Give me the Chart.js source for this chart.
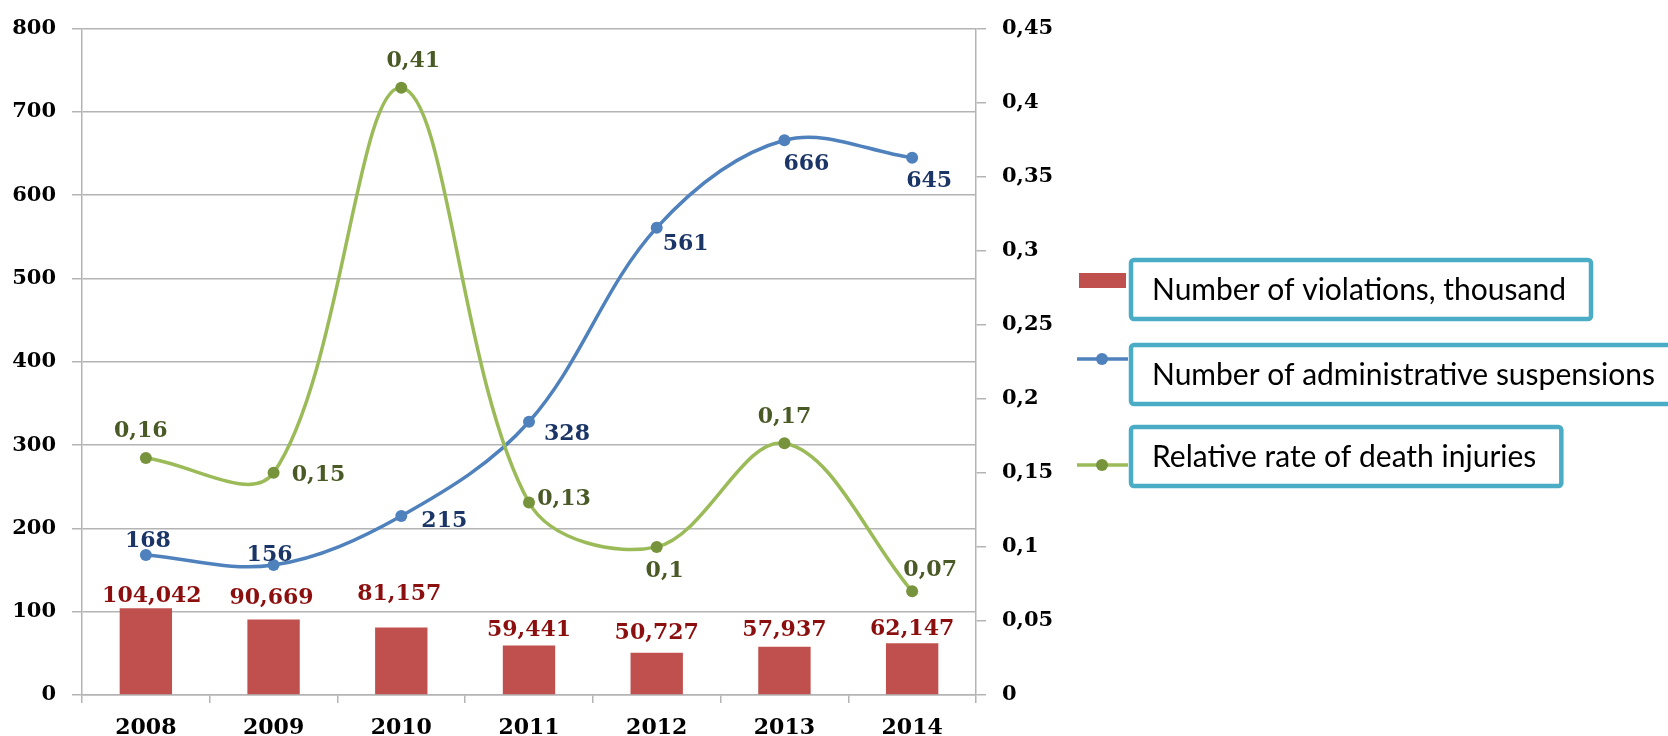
<!DOCTYPE html>
<html>
<head>
<meta charset="utf-8">
<script src="https://cdn.jsdelivr.net/npm/chart.js@4.4.1/dist/chart.umd.min.js"></script>
<style>
  html, body { margin: 0; padding: 0; background: #fff; }
  #wrap { width: 1668px; height: 736px; }
</style>
</head>
<body>
<div id="wrap"><canvas id="chart" width="1668" height="736"></canvas></div>
<script>
// Years on the category axis
const years = ["2008", "2009", "2010", "2011", "2012", "2013", "2014"];

// Number of violations, thousand (bars, left axis)
const violations = [104.042, 90.669, 81.157, 59.441, 50.727, 57.937, 62.147];

// Number of administrative suspensions (blue line, left axis)
const suspensions = [168, 156, 215, 328, 561, 666, 645];

// Relative rate of death injuries (green line, right axis)
const deathRate = [0.16, 0.15, 0.41, 0.13, 0.1, 0.17, 0.07];

const seriesNames = [
  "Number of violations, thousand",
  "Number of administrative suspensions",
  "Relative rate of death injuries"
];

// where each value label sits relative to its point, in px (dx, dy)
const barLabelNudge = [[6, -14], [-2, -23], [-2, -35], [0, -17], [0, -22], [0, -19], [0, -16]];
const blueLabelNudge = [[2, -16], [-4, -12], [43, 3], [38, 10], [29, 14], [22, 22], [17, 21]];
const greenLabelNudge = [[-5, -29], [45, 0], [12, -29], [35, -5], [8, 22], [0, -28], [18, -23]];

const gridGray = "#B4B4B4";
const serif = "'DejaVu Serif', 'Liberation Serif', serif";

const commaNum = (v, digits) => {
  const s = digits === undefined ? String(Math.round(v * 100) / 100) : v.toFixed(digits);
  return s.replace(".", ",");
};

// Value labels next to bars and points
const valueLabels = {
  id: "valueLabels",
  afterDatasetsDraw(chart) {
    const ctx = chart.ctx;
    ctx.save();
    ctx.font = "bold 22px " + serif;
    ctx.textAlign = "center";
    ctx.textBaseline = "alphabetic";
    chart.data.datasets.forEach((ds, i) => {
      const meta = chart.getDatasetMeta(i);
      meta.data.forEach((el, j) => {
        const [dx, dy] = ds.labelNudge[j];
        ctx.fillStyle = ds.labelColor;
        ctx.fillText(ds.labelText(ds.data[j]), el.x + dx, el.y + dy + 8);
      });
    });
    ctx.restore();
  }
};

// Legend on the right with framed captions
const sideLegend = {
  id: "sideLegend",
  afterDraw(chart) {
    const ctx = chart.ctx;
    const boxX = 1131;
    const boxTops = [260, 345, 427];
    const boxH = 59;
    const markerY = [280, 359, 465];

    ctx.save();
    // fit the caption font so the last caption is ~380px wide
    ctx.font = "100px Lato";
    const w100 = ctx.measureText(seriesNames[2]).width;
    const size = Math.round(100 * 380 / w100);
    ctx.font = size + "px Lato";

    chart.data.datasets.forEach((ds, i) => {
      // marker
      if (ds.type === "bar") {
        ctx.fillStyle = ds.backgroundColor;
        ctx.fillRect(1079, markerY[i] - 7, 47, 15);
      } else {
        ctx.strokeStyle = ds.borderColor;
        ctx.lineWidth = 3.5;
        ctx.beginPath();
        ctx.moveTo(1077, markerY[i]);
        ctx.lineTo(1128, markerY[i]);
        ctx.stroke();
        ctx.fillStyle = ds.pointBackgroundColor;
        ctx.beginPath();
        ctx.arc(1102, markerY[i], 6, 0, Math.PI * 2);
        ctx.fill();
      }
      // framed caption
      const tw = ctx.measureText(ds.label).width;
      const bw = tw + 21 + 25;
      ctx.fillStyle = "#fff";
      ctx.strokeStyle = "#4BACC6";
      ctx.lineWidth = 4.5;
      ctx.beginPath();
      if (ctx.roundRect) ctx.roundRect(boxX, boxTops[i], bw, boxH, 3);
      else ctx.rect(boxX, boxTops[i], bw, boxH);
      ctx.fill();
      ctx.stroke();
      ctx.fillStyle = "#000";
      ctx.textAlign = "left";
      ctx.textBaseline = "middle";
      ctx.fillText(ds.label, boxX + 21, boxTops[i] + boxH / 2 + 1);
    });
    ctx.restore();
  }
};

Chart.defaults.font.family = serif;
Chart.defaults.color = "#000";

const chart = new Chart(document.getElementById("chart"), {
  type: "bar",
  data: {
    labels: years,
    datasets: [
      {
        type: "bar",
        label: seriesNames[0],
        data: violations,
        yAxisID: "y",
        backgroundColor: "#C0504D",
        borderWidth: 0,
        categoryPercentage: 1,
        barPercentage: 0.41,
        order: 3,
        labelColor: "#8C0F0F",
        labelNudge: barLabelNudge,
        labelText: v => commaNum(v, 3)
      },
      {
        type: "line",
        label: seriesNames[1],
        data: suspensions,
        yAxisID: "y",
        borderColor: "#4F81BD",
        borderWidth: 3.5,
        pointRadius: 6,
        pointBackgroundColor: "#4F81BD",
        pointBorderWidth: 0,
        tension: 0.35,
        fill: false,
        order: 2,
        labelColor: "#1B3567",
        labelNudge: blueLabelNudge,
        labelText: v => String(v)
      },
      {
        type: "line",
        label: seriesNames[2],
        data: deathRate,
        yAxisID: "y1",
        borderColor: "#9BBB59",
        borderWidth: 3.5,
        pointRadius: 6,
        pointBackgroundColor: "#77933C",
        pointBorderWidth: 0,
        tension: 0.35,
        fill: false,
        order: 1,
        labelColor: "#4A5A26",
        labelNudge: greenLabelNudge,
        labelText: v => commaNum(v)
      }
    ]
  },
  options: {
    responsive: false,
    animation: false,
    layout: { padding: { top: 23, right: 572, bottom: 0, left: 0 } },
    plugins: {
      legend: { display: false },
      tooltip: { enabled: false }
    },
    scales: {
      x: {
        offset: true,
        grid: { offset: true, drawOnChartArea: false, tickLength: 8, color: gridGray, lineWidth: 1.5 },
        border: { color: gridGray, width: 1.5 },
        ticks: { font: { size: 22, weight: "bold" }, color: "#000", padding: 12, maxRotation: 0 },
        afterFit: s => { s.height = 41; }
      },
      y: {
        position: "left",
        min: 0,
        max: 800,
        ticks: { stepSize: 100, font: { size: 21, weight: "bold" }, color: "#000", padding: 16 },
        grid: { color: gridGray, lineWidth: 1.5, tickLength: 10 },
        border: { color: gridGray, width: 1.5 },
        afterFit: s => { s.width = 82; }
      },
      y1: {
        position: "right",
        min: 0,
        max: 0.45,
        ticks: {
          stepSize: 0.05,
          font: { size: 21, weight: "bold" },
          color: "#000",
          padding: 16,
          callback: v => commaNum(v)
        },
        grid: { drawOnChartArea: false, color: gridGray, lineWidth: 1.5, tickLength: 10 },
        border: { color: gridGray, width: 1.5 },
        afterFit: s => { s.width = 120; }
      }
    }
  },
  plugins: [valueLabels, sideLegend]
});
</script>
</body>
</html>
